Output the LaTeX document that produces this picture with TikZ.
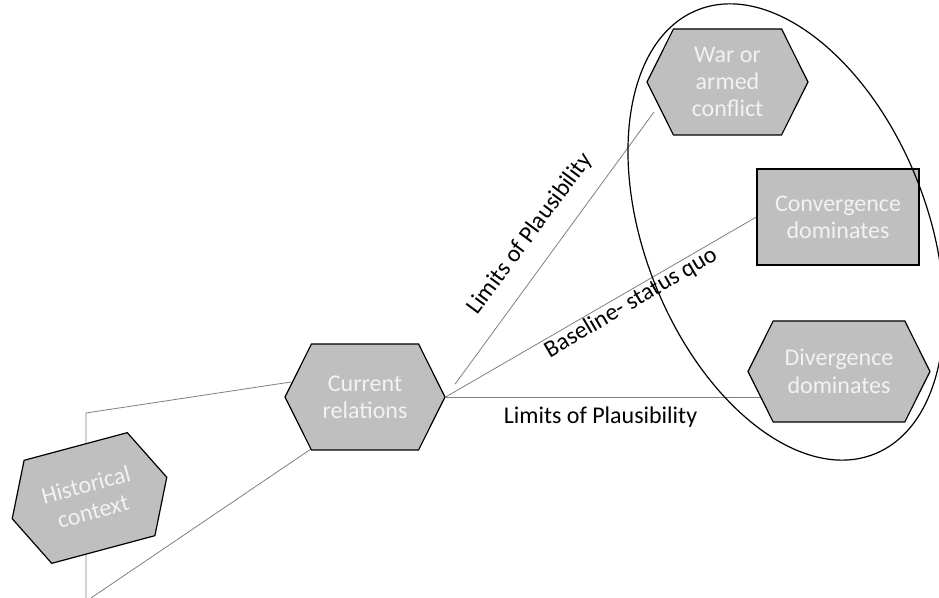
\documentclass[tikz,border=0pt]{standalone}
\usepackage{fontspec}
\setmainfont{Carlito}
\usetikzlibrary{shapes.symbols,calc,backgrounds}
\definecolor{boxgray}{HTML}{BFBFBF}
\definecolor{boxtext}{HTML}{F2F2F2}
\definecolor{linegray}{HTML}{7F7F7F}

\begin{document}
\begin{tikzpicture}[x=0.75pt, y=0.75pt,
    hexbox/.style={shape=signal, signal to=east and west, signal pointer angle=127,
      draw=black, line width=0.9pt, fill=boxgray, text=boxtext, align=center,
      font=\fontsize{18}{20.5}\selectfont, inner sep=0pt},
    rectbox/.style={rectangle, draw=black, line width=0.9pt, fill=boxgray, text=boxtext,
      align=center, font=\fontsize{18}{20.5}\selectfont, inner sep=0pt},
    link/.style={draw=linegray, line width=0.6pt},
    lbl/.style={font=\fontsize{18}{21}\selectfont, inner sep=0pt}]
                \useasboundingbox (0,0) rectangle (939,598);

                % Scenario boxes
                \node[hexbox, rotate=15, minimum width=120pt, minimum height=80pt] (hist) at (89.5,100) {Historical\\context};
                \node[hexbox, minimum width=120pt, minimum height=79.5pt] (cur) at (365,201) {Current\\relations};
                \node[hexbox, minimum width=120.75pt, minimum height=79.5pt] (war) at (727.5,516) {War or\\armed\\conflict};
                \node[rectbox, minimum width=121.5pt, minimum height=72pt] (conv) at (838,381) {Convergence\\dominates};
                \node[hexbox, minimum width=136.5pt, minimum height=75.75pt] (div) at (839,226.5) {Divergence\\dominates};

                % Cone and path end points
                \coordinate (conetop) at (86,185);
                \coordinate (conebase) at (86,0);
                \coordinate (coneend) at (91,0);
                \coordinate (curupper) at (291,216);
                \coordinate (curlower) at (311,149);
                \coordinate (warend) at (654,486);

                % Connectors behind the boxes
                \begin{scope}[on background layer]
                \draw[link] (conebase) -- (conetop) -- (curupper);
                \draw[link] (coneend) -- (curlower);
                \draw[link] ($(cur.east)!0.045!(warend)$) -- (warend);
                \draw[link] (cur.east) -- (conv.west);
                \draw[link] (cur.east) -- (cur.east -| div.center);
                \end{scope}

                % Labels on the paths
                \node[lbl, rotate=53.5] (limup) at (530,364) {Limits of Plausibility};
                \node[lbl, rotate=30.5] (baseline) at (631,295) {Baseline- status quo};
                \node[lbl] (limlow) at (600.5,181) {Limits of Plausibility};

                % Outcome ellipse
                \draw[black, line width=0.9pt, rotate around={21.7:(786,366)}] (786,366) ellipse [x radius=105.75pt, y radius=179.25pt];

\end{tikzpicture}
\end{document}
